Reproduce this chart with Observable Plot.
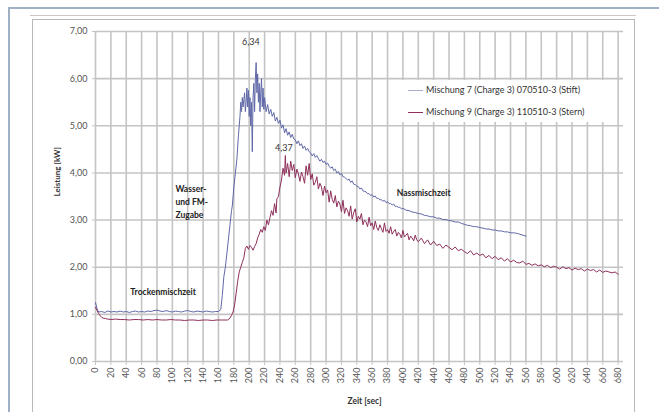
<!DOCTYPE html>
<html>
<head>
<meta charset="utf-8">
<script src="https://cdn.jsdelivr.net/npm/d3@7"></script>
<script src="https://cdn.jsdelivr.net/npm/@observablehq/plot@0.6"></script>
<style>
  html, body { margin: 0; padding: 0; background: #fff; }
  #wrap { position: relative; width: 659px; height: 412px; overflow: hidden; font-family: Lato, "Open Sans", sans-serif; }
  .ln { position: absolute; }
  #legend { position: absolute; left: 402px; top: 80px; width: 203px; height: 42px; background: #fff; font-size: 9px; color: #333; }
  #legend .row { position: absolute; left: 6px; height: 12px; line-height: 12px; white-space: nowrap; }
  #legend .sw { display: inline-block; width: 15px; height: 0; border-top: 1.5px solid; vertical-align: middle; margin-right: 3px; }
  svg { position: absolute; left: 0; top: 0; }
</style>
</head>
<body>
<div id="wrap"></div>
<script>
// ---- data ----
const seriesNames = ["Mischung 7 (Charge 3) 070510-3 (Stift)", "Mischung 9 (Charge 3) 110510-3 (Stern)"];
const seriesColors = ["#6068a8", "#8e2f5a"];

const blueT = [0,2,4,8,12,16,20,24,28,32,36,40,44,48,52,56,60,64,68,72,76,80,84,88,92,96,100,104,108,112,116,120,124,128,132,136,140,144,148,152,156,160,163,165,167,169,171,173,175,177,178,180,182,184,186,188,189,190,191,192,193,194,195,196,197,198,199,200,201,202,203,204,205,206,207,208,209,210,211,212,213,214,215,216,217,218,219,220,222,224,226,228,230,232,234,236,238,240,242,244,246,248,250,252,254,256,258,260,262,264,266,268,270,272,274,276,278,280,282,284,286,288,290,292,294,296,298,300,302,304,306,308,310,312,314,316,318,320,322,324,326,328,330,332,334,336,338,340,342,344,346,348,350,352,354,356,358,360,362,364,366,368,370,372,374,376,378,380,382,384,386,388,390,392,394,396,398,400,404,408,412,416,420,424,428,432,436,440,444,448,452,456,460,464,468,472,476,480,484,488,492,496,500,504,508,512,516,520,524,528,532,536,540,544,548,552,556,560];
const blueV = [1.25,1.12,1.05,1.06,1.04,1.07,1.05,1.06,1.05,1.07,1.05,1.06,1.04,1.06,1.07,1.05,1.06,1.05,1.07,1.06,1.08,1.09,1.07,1.06,1.08,1.06,1.05,1.07,1.06,1.05,1.07,1.08,1.06,1.05,1.07,1.06,1.05,1.07,1.06,1.05,1.06,1.06,1.10,1.40,1.80,2.00,2.30,2.60,2.90,3.20,3.30,3.70,4.00,4.30,4.80,5.20,5.50,5.30,5.60,5.40,5.55,5.70,5.30,5.50,5.80,5.40,5.75,5.20,5.60,5.00,5.50,4.45,5.60,5.90,5.30,6.00,6.34,5.70,6.10,5.50,5.90,5.30,5.70,6.00,5.40,5.80,5.35,5.60,5.30,5.45,5.25,5.35,5.20,5.28,5.10,5.18,5.05,5.12,4.95,5.02,4.85,4.94,4.80,4.87,4.75,4.82,4.72,4.70,4.62,4.68,4.58,4.62,4.52,4.57,4.48,4.52,4.45,4.42,4.36,4.41,4.33,4.37,4.30,4.25,4.29,4.22,4.25,4.18,4.21,4.14,4.10,4.13,4.05,4.08,4.00,4.03,3.96,3.99,3.92,3.91,3.88,3.85,3.87,3.80,3.83,3.76,3.75,3.72,3.71,3.66,3.68,3.62,3.61,3.60,3.56,3.56,3.52,3.54,3.49,3.51,3.46,3.46,3.43,3.43,3.40,3.42,3.37,3.39,3.35,3.35,3.32,3.34,3.29,3.29,3.27,3.27,3.24,3.25,3.21,3.20,3.17,3.16,3.14,3.13,3.10,3.09,3.07,3.07,3.04,3.04,3.01,3.01,2.99,2.98,2.96,2.96,2.93,2.91,2.89,2.88,2.86,2.86,2.84,2.83,2.81,2.81,2.79,2.79,2.77,2.77,2.75,2.75,2.73,2.73,2.72,2.70,2.68,2.66,2.62];

// [time (s), power (kW)]
const redSeries = [
  [0,1.15],[2,1.08],[4,1.02],[6,0.97],[8,0.94],[10,0.92],[13,0.91],[16,0.90],[20,0.89],[26,0.90],[32,0.89],[38,0.89],[44,0.88],[50,0.89],[56,0.89],[62,0.88],[68,0.89],[74,0.88],[80,0.89],[86,0.88],[92,0.88],[98,0.89],[104,0.88],[110,0.88],[116,0.87],[122,0.88],[128,0.88],[134,0.87],[140,0.88],[146,0.88],[152,0.87],[158,0.88],[164,0.88],[170,0.88],[172,0.88],
  [175,0.92],[177,0.98],[179,1.05],[181,1.20],[183,1.45],[185,1.70],[187,1.90],[189,2.00],[191,2.10],[193,2.20],[195,2.40],[197,2.45],[199,2.38],[201,2.46],[203,2.42],[205,2.36],[207,2.44],[209,2.50],[211,2.62],[213,2.70],[215,2.80],[217,2.74],[219,2.86],[221,2.78],[223,3.00],[225,2.90],[227,3.05],[229,3.20],[231,3.10],[233,3.35],[235,3.15],[236,3.45],[238,3.50],[240,3.70],[242,3.85],[244,4.10],[246,3.95],[247,4.37],[248,4.00],
  [250,4.20],[252,3.92],[254,4.25],[256,4.05],[258,4.18],[260,3.90],[262,4.08],[264,3.98],[266,3.82],[268,4.02],[270,3.92],[272,3.78],[274,4.15],[276,3.95],[278,4.20],[280,3.86],[282,3.98],[284,3.74],[286,3.80],[288,3.92],[290,3.66],[292,3.78],[294,3.70],[296,3.52],[298,3.72],[300,3.58],[302,3.64],[304,3.38],[306,3.62],[308,3.44],[310,3.36],[312,3.52],[314,3.28],[316,3.40],[318,3.34],[320,3.18],[322,3.42],[324,3.14],[326,3.26],[328,3.20],[330,3.08],[332,3.30],[334,3.02],[336,3.16],[338,3.24],[340,2.96],[342,3.08],[344,3.02],[346,3.14],[348,2.90],[350,3.00],[352,2.96],[354,2.86],[356,3.06],[358,2.88],[360,2.94],[362,2.80],[364,2.98],[366,2.84],[368,2.78],[370,2.90],[372,2.82],[374,2.74],[376,2.94],[378,2.76],[380,2.80],[382,2.72],[384,2.86],[386,2.70],[388,2.76],[390,2.80],[392,2.66],[394,2.74],[396,2.70],[398,2.62],[400,2.78],[402,2.64],[404,2.68],[406,2.72],[408,2.58],[410,2.66],[412,2.62],[414,2.56],[416,2.68],[418,2.58],[420,2.54],
  [424,2.62],[428,2.50],[432,2.58],[436,2.47],[440,2.55],[444,2.46],[448,2.49],[452,2.40],[456,2.47],[460,2.42],[464,2.37],[468,2.43],[472,2.35],[476,2.38],[480,2.33],[484,2.29],[488,2.35],[492,2.26],[496,2.30],[500,2.25],[504,2.28],[508,2.20],[512,2.25],[516,2.18],[520,2.23],[524,2.16],[528,2.20],[532,2.13],[536,2.18],[540,2.11],[544,2.15],[548,2.10],[552,2.09],[556,2.13],[560,2.06],[564,2.08],[568,2.04],[572,2.07],[576,2.03],[580,2.05],[584,2.01],[588,2.04],[592,1.99],[596,2.02],[600,2.00],[604,1.96],[608,2.01],[612,1.97],[616,1.99],[620,1.94],[624,1.98],[628,1.95],[632,1.97],[636,1.92],[640,1.96],[644,1.93],[648,1.95],[652,1.90],[656,1.94],[660,1.89],[664,1.92],[668,1.90],[672,1.88],[676,1.90],[680,1.85]
];

const xTicks = [0,20,40,60,80,100,120,140,160,180,200,220,240,260,280,300,320,340,360,380,400,420,440,460,480,500,520,540,560,580,600,620,640,660,680];
const yTicks = [0,1,2,3,4,5,6,7];

const notes = [
  {t: 202, v: 6.77, text: "6,34", anchor: "middle", bold: false},
  {t: 245, v: 4.52, text: "4,37", anchor: "middle", bold: false},
  {t: 104, v: 3.80, text: "Wasser-\nund FM-\nZugabe", anchor: "start", bold: true},
  {t: 88, v: 1.46, text: "Trockenmischzeit", anchor: "middle", bold: true},
  {t: 392, v: 3.71, text: "Nassmischzeit", anchor: "start", bold: true}
];
const xLabel = "Zeit [sec]";
const yLabel = "Leistung [kW]";

// ---- build ----
const rows = [];
blueT.forEach((t, i) => rows.push({t, v: blueV[i], s: seriesNames[0]}));
redSeries.forEach(([t, v]) => rows.push({t, v, s: seriesNames[1]}));

const W = 659, H = 412;
const chart = Plot.plot({
  width: W, height: H,
  marginLeft: 95, marginRight: 36, marginTop: 31, marginBottom: 51,
  style: {fontFamily: "Lato, 'Open Sans', sans-serif", fontSize: "9px", color: "#555", background: "transparent"},
  x: {domain: [0, 687]},
  y: {domain: [0, 7]},
  color: {domain: seriesNames, range: seriesColors},
  marks: [
    Plot.ruleX(xTicks, {stroke: "#c4c4c4", strokeWidth: 1.6, y1: 0, y2: 7}),
    Plot.ruleY(yTicks, {stroke: "#c4c4c4", strokeWidth: 1.6}),
    Plot.axisY({ticks: yTicks, tickSize: 3, tickPadding: 5, stroke: "#c4c4c4", tickFormat: d => d.toFixed(2).replace(".", ","), label: null}),
    Plot.axisX({ticks: xTicks, tickSize: 4, tickPadding: 2, stroke: "#c4c4c4", tickRotate: -90, label: null}),
    Plot.line(rows, {x: "t", y: "v", z: "s", stroke: "s", strokeWidth: 1, curve: "linear"}),
    Plot.text(notes.filter(d => !d.bold), {x: "t", y: "v", text: "text", textAnchor: "middle", fill: "#333", fontSize: 9}),
    Plot.text(notes.filter(d => d.bold && d.anchor === "start"), {x: "t", y: "v", text: "text", textAnchor: "start", lineAnchor: "top", lineHeight: 1.55, fill: "#222", fontSize: 8.5, fontWeight: "bold"}),
    Plot.text(notes.filter(d => d.bold && d.anchor === "middle"), {x: "t", y: "v", text: "text", textAnchor: "middle", fill: "#222", fontSize: 8.5, fontWeight: "bold"}),
    Plot.text([yLabel], {frameAnchor: "left", dx: -38, rotate: -90, text: d => d, fontWeight: "bold", fontSize: 8, fill: "#333"}),
    Plot.text([xLabel], {x: 350, y: 0, dy: 40, text: d => d, fontWeight: "bold", fontSize: 8.5, fill: "#333"})
  ]
});

const wrap = document.getElementById("wrap");
function line(l, t, w, h, c) {
  const d = document.createElement("div");
  d.className = "ln";
  Object.assign(d.style, {left: l + "px", top: t + "px", width: w + "px", height: h + "px", background: c});
  wrap.appendChild(d);
}
wrap.appendChild(chart);
line(8, 7, 651, 1.5, "#9fb0c4");
line(8, 7, 1.5, 405, "#9fb0c4");
line(30, 15, 606, 1, "#c8c8c8");
line(32, 19, 603, 1.2, "#b8b8b8");
line(32, 19, 1.2, 393, "#b8b8b8");
line(634, 19, 1.2, 393, "#b8b8b8");

const lg = document.createElement("div");
lg.id = "legend";
seriesNames.forEach((n, i) => {
  const r = document.createElement("div");
  r.className = "row";
  r.style.top = (4 + i * 22) + "px";
  r.innerHTML = `<span class="sw" style="border-color:${i === 0 ? "#a9aed0" : seriesColors[1]}"></span>`;
  r.appendChild(document.createTextNode(n));
  lg.appendChild(r);
});
wrap.appendChild(lg);
</script>
</body>
</html>
